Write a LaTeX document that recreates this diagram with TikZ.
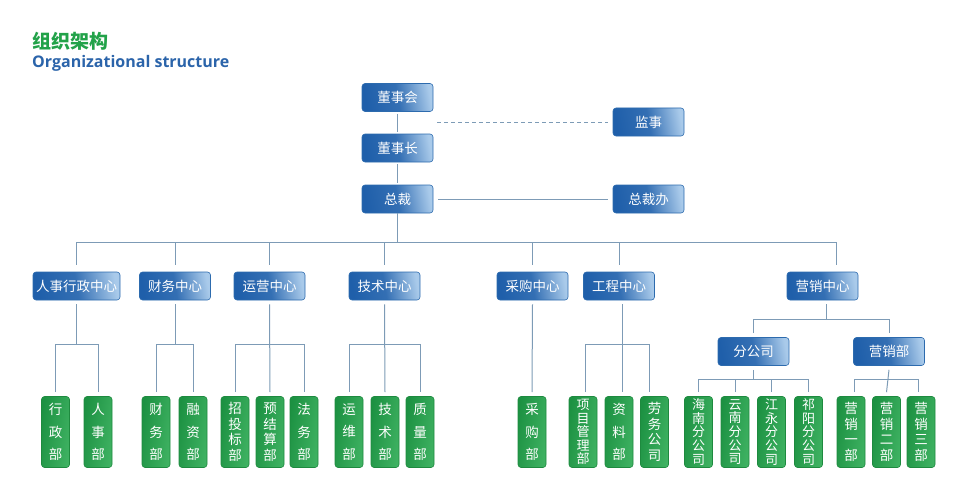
\documentclass[tikz,border=0pt]{standalone}
\usepackage{fontspec}
\newfontfamily\cjk{Noto Sans CJK SC}
\newfontfamily\latn{Open Sans}
\definecolor{titlegreen}{HTML}{22A249}
\definecolor{titleblue}{HTML}{2B64AA}
\definecolor{bdark}{HTML}{1F5FAA}
\definecolor{blight}{HTML}{A9CAEA}
\definecolor{bedge}{HTML}{2D6BAE}
\definecolor{gdark}{HTML}{1C9142}
\definecolor{glight}{HTML}{3FB262}
\definecolor{gedge}{HTML}{1E8A3F}
\definecolor{conn}{HTML}{7D9BB6}
\tikzset{
  bluebox/.style={rounded corners=3pt, draw=bedge, line width=0.6pt,
    left color=bdark, right color=blight, middle color=bdark!85!blight, shading angle=100,
    minimum width=71pt, minimum height=28pt, inner sep=1pt,
    text=white, font=\cjk\fontsize{13.5}{15}\selectfont},
  greenbox/.style={rounded corners=3pt, draw=gedge, line width=0.6pt,
    left color=gdark, right color=glight, shading angle=80,
    minimum width=28pt, minimum height=71pt, inner sep=0pt,
    text=white, align=center},
  g3/.style={greenbox, font=\cjk\fontsize{13.5}{22.5}\selectfont},
  g4/.style={greenbox, font=\cjk\fontsize{13.5}{15.5}\selectfont},
  g5/.style={greenbox, font=\cjk\fontsize{13}{13.6}\selectfont},
  link/.style={draw=conn, line width=1pt},
}
\begin{document}
\begin{tikzpicture}[x=1pt,y=-1pt]
\useasboundingbox (0,0) rectangle (962,503);
% titles
\node[anchor=west, text=titlegreen, font=\cjk\bfseries\fontsize{19}{22}\selectfont, inner sep=0pt] (t1) at (32,41) {组织架构};
\node[anchor=west, text=titleblue, font=\latn\bfseries\fontsize{16}{20}\selectfont, inner sep=0pt] (t2) at (32,63) {Organizational structure};
% top level
\node[bluebox] (dsh) at (397.5,97.5) {董事会};
\node[bluebox] (js) at (648.5,122) {监事};
\node[bluebox] (dsz) at (397.5,148) {董事长};
\node[bluebox] (zc) at (397.5,199) {总裁};
\node[bluebox] (zcb) at (648.5,199) {总裁办};
% level 2
\node[bluebox, minimum width=87pt] (rs) at (76.5,286) {人事行政中心};
\node[bluebox] (cw) at (175,286) {财务中心};
\node[bluebox] (yy) at (269.5,286) {运营中心};
\node[bluebox] (js2) at (384.5,286) {技术中心};
\node[bluebox] (cg) at (532.5,286) {采购中心};
\node[bluebox] (gc) at (619,286) {工程中心};
\node[bluebox] (yx) at (822.5,286) {营销中心};
% level 3 blue
\node[bluebox] (fgs) at (753.5,351.5) {分公司};
\node[bluebox] (yxb) at (889,351.5) {营销部};
% green leaves
\node[g3] (l1) at (55.5,432) {行\\政\\部};
\node[g3] (l2) at (98,432) {人\\事\\部};
\node[g3] (l3) at (156,432) {财\\务\\部};
\node[g3] (l4) at (193,432) {融\\资\\部};
\node[g4] (l5) at (235,432) {招\\投\\标\\部};
\node[g4] (l6) at (270,432) {预\\结\\算\\部};
\node[g3] (l7) at (304,432) {法\\务\\部};
\node[g3] (l8) at (349,432) {运\\维\\部};
\node[g3] (l9) at (385,432) {技\\术\\部};
\node[g3] (l10) at (420,432) {质\\量\\部};
\node[g3] (l11) at (532,432) {采\\购\\部};
\node[g5] (l12) at (583,432) {项\\目\\管\\理\\部};
\node[g3] (l13) at (619,432) {资\\料\\部};
\node[g4] (l14) at (654.5,432) {劳\\务\\公\\司};
\node[g5] (l15) at (698.5,432) {海\\南\\分\\公\\司};
\node[g5] (l16) at (735,432) {云\\南\\分\\公\\司};
\node[g5] (l17) at (771.5,432) {江\\永\\分\\公\\司};
\node[g5] (l18) at (808.5,432) {祁\\阳\\分\\公\\司};
\node[g4] (l19) at (851,432) {营\\销\\一\\部};
\node[g4] (l20) at (886.5,432) {营\\销\\二\\部};
\node[g4] (l21) at (921,432) {营\\销\\三\\部};
% bus coordinates
\coordinate (b1) at (0,242);
\coordinate (b2) at (0,344);
\coordinate (b3) at (0,319);
\coordinate (b4) at (0,379);
\coordinate (jsend) at (437,122);
% top connectors
\draw[link, shorten <=2pt, shorten >=2pt] (dsh) -- (dsz);
\draw[link, shorten <=2pt, shorten >=2pt] (dsz) -- (zc);
\draw[link, dashed, dash pattern=on 4pt off 3pt, shorten >=5pt] (jsend) -- (js.west);
\draw[link, shorten <=5pt, shorten >=5pt] (zc.east) -- (zcb.west);
\draw[link] (zc.south) -- (zc.south |- b1);
\draw[link] ([yshift=7pt]rs.north) |- ([xshift=14pt]yx.north |- b1) -- ([xshift=14pt,yshift=7pt]yx.north);
\foreach \n in {cw,yy,js2,cg,gc}{
  \draw[link] ([yshift=7pt]\n.north) -- (\n.north |- b1);
}
% level 2 to leaves
\draw[link] ([yshift=-4pt]rs.south) -- (rs.south |- b2);
\draw[link] ([yshift=4pt]l1.north) |- (l2.north |- b2) -- ([yshift=4pt]l2.north);
\draw[link] ([yshift=-4pt]cw.south) -- (cw.south |- b2);
\draw[link] ([yshift=4pt]l3.north) |- (l4.north |- b2) -- ([yshift=4pt]l4.north);
\draw[link] ([yshift=-4pt]yy.south) -- ([yshift=4pt]l6.north);
\draw[link] ([yshift=4pt]l5.north) |- (l7.north |- b2) -- ([yshift=4pt]l7.north);
\draw[link] ([yshift=-4pt]js2.south) -- ([yshift=4pt]l9.north);
\draw[link] ([yshift=4pt]l8.north) |- (l10.north |- b2) -- ([yshift=4pt]l10.north);
\draw[link] ([yshift=-4pt]cg.south) -- ([yshift=4pt]l11.north);
\draw[link] ([yshift=-4pt,xshift=3pt]gc.south) -- ([yshift=4pt,xshift=3pt]l13.north);
\draw[link] ([yshift=4pt,xshift=2pt]l12.north) |- ([xshift=-5pt]l14.north |- b2) -- ([yshift=4pt,xshift=-5pt]l14.north);
% marketing
\draw[link] ([yshift=-4pt,xshift=4pt]yx.south) -- ([xshift=4pt]yx.south |- b3);
\draw[link] ([yshift=4pt]fgs.north) |- (yxb.north |- b3) -- ([yshift=4pt]yxb.north);
\draw[link] ([yshift=-4pt]fgs.south) -- (fgs.south |- b4);
\draw[link] ([yshift=4pt]l15.north) |- (l18.north |- b4) -- ([yshift=4pt]l18.north);
\draw[link] ([yshift=4pt]l16.north) -- (l16.north |- b4);
\draw[link] ([yshift=4pt]l17.north) -- (l17.north |- b4);
\draw[link] ([yshift=-4pt]yxb.south) -- ([yshift=4pt]l20.north);
\draw[link] ([yshift=4pt,xshift=3pt]l19.north) |- ([xshift=-3pt]l21.north |- b4) -- ([yshift=4pt,xshift=-3pt]l21.north);
\end{tikzpicture}
\end{document}
